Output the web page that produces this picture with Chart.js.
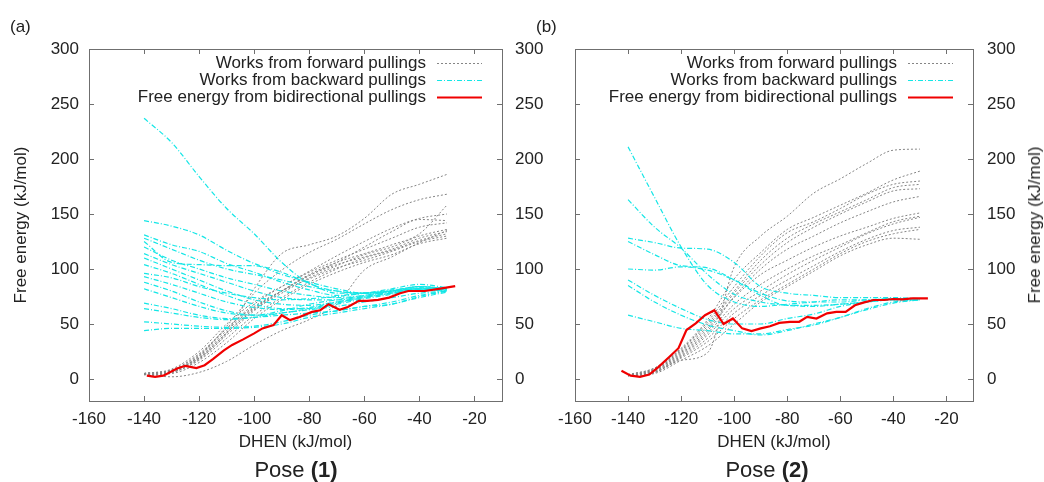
<!doctype html>
<html lang="en">
<head>
<meta charset="utf-8">
<title>Free energy from pullings</title>
<script src="https://cdn.jsdelivr.net/npm/chart.js@4.4.1/dist/chart.umd.min.js"></script>
<style>
  body { margin:0; background:#fff; font-family:"Liberation Sans", Arial, sans-serif; color:#222; }
  #wrap { position:relative; width:1044px; height:482px; overflow:hidden; }
  canvas { position:absolute; top:0; }
  .lbl { position:absolute; font-size:17px; line-height:20px; white-space:nowrap; }
  .pose { position:absolute; top:457px; font-size:22px; line-height:26px; transform:translateX(-50%); white-space:nowrap; }
  .ytitle { position:absolute; font-size:17px; line-height:20px; white-space:nowrap; transform:translate(-50%,-50%) rotate(-90deg); }
</style>
</head>
<body>
<div id="wrap">
  <canvas id="chartA" width="550" height="482" style="left:0px; width:550px; height:482px"></canvas>
  <canvas id="chartB" width="494" height="482" style="left:550px; width:494px; height:482px"></canvas>
  <div class="lbl" style="left:10px; top:17px">(a)</div>
  <div class="lbl" style="left:536px; top:17px">(b)</div>
  <div class="pose" style="left:296px">Pose <b>(1)</b></div>
  <div class="pose" style="left:767px">Pose <b>(2)</b></div>
  <div class="ytitle" style="left:1035px; top:225px">Free energy (kJ/mol)</div>
</div>

<script>
// axes
var xTicks = [-160, -140, -120, -100, -80, -60, -40, -20];
var yTicks = [0, 50, 100, 150, 200, 250, 300];
var legendLabels = ['Works from forward pullings', 'Works from backward pullings', 'Free energy from bidirectional pullings'];

// x positions of the pulling work curves
var xGrid = [-140, -130, -120, -110, -100, -90, -80, -70, -60, -50, -40, -30];

// pose (1): forward works
var fwdA = [
  [5, 8, 19, 42, 82, 114, 122, 130, 146, 168, 177, 186],
  [5, 7, 21, 48, 78, 99, 115, 127, 141, 154, 163, 168],
  [4, 6, 18, 40, 62, 80, 95, 106, 114, 122, 132, 158],
  [5, 8, 22, 46, 68, 84, 98, 112, 125, 137, 146, 150],
  [4, 7, 20, 42, 64, 80, 94, 106, 120, 134, 145, 144],
  [4, 6, 19, 42, 63, 78, 92, 103, 113, 120, 130, 136],
  [5, 7, 21, 44, 65, 80, 94, 104, 111, 118, 128, 134],
  [4, 6, 17, 37, 58, 74, 88, 100, 110, 117, 126, 132],
  [5, 8, 23, 46, 66, 80, 91, 101, 108, 116, 125, 130],
  [4, 5, 15, 33, 55, 72, 86, 97, 106, 113, 123, 128],
  [4, 2, 6, 16, 31, 44, 54, 68, 99, 111, 124, 135],
  [5, 9, 25, 50, 70, 84, 97, 108, 118, 128, 138, 142]
];
// pose (1): backward works
var bwdA = [
  [237, 215, 184, 155, 132, 106, 87, 80, 78, 80, 82, 82],
  [144, 139, 131, 117, 105, 97, 87, 78, 78, 81, 83, 82],
  [131, 122, 116, 105, 97, 88, 81, 76, 78, 80, 82, 80],
  [128, 118, 108, 100, 95, 90, 84, 80, 78, 80, 82, 82],
  [125, 106, 104, 103, 103, 95, 88, 82, 78, 80, 84, 82],
  [120, 108, 100, 92, 86, 80, 76, 74, 76, 80, 84, 82],
  [114, 104, 96, 88, 80, 74, 72, 72, 75, 78, 82, 81],
  [110, 100, 90, 80, 72, 68, 67, 70, 74, 78, 82, 82],
  [104, 96, 86, 76, 68, 64, 64, 68, 73, 77, 81, 81],
  [96, 92, 84, 78, 74, 72, 73, 75, 78, 82, 86, 83],
  [93, 86, 78, 70, 65, 63, 65, 70, 75, 79, 82, 81],
  [88, 80, 70, 62, 58, 60, 64, 69, 74, 78, 81, 80],
  [82, 74, 66, 60, 58, 62, 68, 72, 76, 80, 84, 82],
  [69, 64, 58, 55, 56, 60, 63, 66, 70, 74, 78, 80],
  [64, 60, 56, 54, 56, 58, 60, 62, 66, 68, 75, 80],
  [52, 50, 48, 47, 48, 52, 58, 62, 66, 70, 76, 80],
  [44, 46, 46, 46, 47, 50, 56, 60, 64, 68, 74, 79]
];
// pose (1): free energy
var feXA = [-139, -136, -133, -128, -125, -121, -118, -115, -111, -108, -104, -100, -97, -93, -90, -87, -84, -79, -76, -73, -69, -66, -62, -59, -55, -51, -47, -44, -38, -33, -27];
var feYA = [3, 2, 3, 9.5, 12, 10, 12.5, 18, 26, 31, 36, 41.5, 46, 49, 58, 53.5, 56, 61, 62.5, 68, 63, 65.5, 71, 71, 72, 74, 78, 80, 80, 82, 84.5];

// pose (2): forward works
var fwdB = [
  [3, 6, 17, 24, 102, 130, 148, 169, 182, 196, 208, 209],
  [4, 10, 28, 54, 91, 115, 136, 147, 158, 169, 181, 189],
  [4, 10, 27, 52, 84, 112, 133, 143, 155, 168, 177, 180],
  [3, 9, 26, 50, 80, 108, 128, 141, 152, 163, 174, 177],
  [3, 9, 25, 48, 78, 104, 124, 138, 150, 161, 171, 173],
  [3, 8, 24, 46, 75, 100, 118, 130, 142, 152, 161, 166],
  [3, 8, 23, 44, 74, 95, 108, 120, 130, 138, 146, 151],
  [3, 7, 22, 42, 68, 86, 100, 112, 122, 133, 143, 148],
  [3, 7, 21, 40, 64, 80, 95, 108, 120, 132, 141, 147],
  [3, 6, 20, 37, 60, 76, 90, 103, 116, 127, 135, 138],
  [3, 6, 19, 34, 55, 72, 86, 100, 114, 125, 132, 136],
  [3, 5, 17, 30, 50, 70, 84, 98, 112, 122, 128, 127]
];
// pose (2): backward works
var bwdB = [
  [211, 165, 120, 85, 70, 66, 68, 70, 72, 72, 73, 73],
  [163, 138, 119, 95, 77, 70, 67, 66, 68, 70, 72, 72],
  [128, 124, 119, 118, 106, 84, 78, 76, 74, 74, 74, 73],
  [125, 113, 103, 101, 90, 76, 67, 67, 68, 70, 72, 72],
  [100, 99, 102, 99, 90, 78, 71, 70, 70, 72, 73, 73],
  [90, 76, 64, 54, 50, 50, 55, 59, 66, 70, 73, 73],
  [85, 70, 58, 49, 44, 40, 44, 50, 56, 64, 70, 72],
  [58, 52, 46, 44, 41, 41, 45, 49, 56, 63, 69, 72]
];
// pose (2): free energy
var feXB = [-142.5, -139, -135.5, -132, -128.5, -124.5, -121, -118, -114.5, -111, -107.5, -104, -100.5, -97, -93.5, -90, -86.5, -83, -79, -75.5, -72.5, -69, -65, -61.5, -58, -54.5, -51, -47.5, -43.5, -40, -36.5, -33, -27];
var feYB = [7.5, 3, 2, 4, 11, 20, 28, 44.5, 50.6, 58, 62.5, 50, 55, 46, 43.6, 46, 48, 51, 52, 52, 56.5, 55, 59.7, 61, 61, 67, 69.7, 71.8, 71.8, 72.7, 72.4, 73.3, 73.3];

var fontFamily = '"Liberation Sans", Arial, sans-serif';
var txtColor = '#222';
var grayStyle = {color: '#858585', width: 1, dash: [2, 2]};
var cyanStyle = {color: '#14e6e6', width: 1.2, dash: [5, 2, 1, 2]};
var redStyle = {color: '#f00000', width: 2.2, dash: []};

function pts(xs, ys) {
  return xs.map(function (x, i) { return {x: x, y: ys[i]}; });
}

function line(data, st) {
  return {
    data: data,
    borderColor: st.color,
    borderWidth: st.width,
    borderDash: st.dash,
    pointRadius: 0,
    fill: false,
    cubicInterpolationMode: 'monotone'
  };
}

function buildSets(fwd, bwd, feX, feY) {
  var sets = [line(pts(feX, feY), redStyle)];
  sets[0].cubicInterpolationMode = 'default';
  sets[0].tension = 0;
  bwd.forEach(function (ys) { sets.push(line(pts(xGrid, ys), cyanStyle)); });
  fwd.forEach(function (ys) { sets.push(line(pts(xGrid, ys), grayStyle)); });
  return sets;
}

// frame, inward ticks on all four sides and the gnuplot style key
var framePlugin = {
  id: 'frame',
  afterDraw: function (chart) {
    var ctx = chart.ctx, a = chart.chartArea;
    var xs = chart.scales.x, ys = chart.scales.y;
    ctx.save();
    ctx.strokeStyle = '#6f6f6f';
    ctx.lineWidth = 1;
    ctx.strokeRect(Math.round(a.left) + 0.5, Math.round(a.top) + 0.5, Math.round(a.right - a.left), Math.round(a.bottom - a.top));
    ctx.beginPath();
    xTicks.forEach(function (v) {
      var p = Math.round(xs.getPixelForValue(v)) + 0.5;
      ctx.moveTo(p, a.bottom); ctx.lineTo(p, a.bottom - 5);
      ctx.moveTo(p, a.top); ctx.lineTo(p, a.top + 5);
    });
    yTicks.forEach(function (v) {
      var p = Math.round(ys.getPixelForValue(v)) + 0.5;
      ctx.moveTo(a.left, p); ctx.lineTo(a.left + 5, p);
      ctx.moveTo(a.right, p); ctx.lineTo(a.right - 5, p);
    });
    ctx.stroke();

    // key
    var styles = [grayStyle, cyanStyle, redStyle];
    ctx.font = '17px ' + fontFamily;
    ctx.fillStyle = txtColor;
    ctx.textAlign = 'right';
    ctx.textBaseline = 'middle';
    legendLabels.forEach(function (t, i) {
      var y = a.top + 14 + i * 17;
      ctx.fillText(t, a.right - 76, y);
      ctx.beginPath();
      ctx.strokeStyle = styles[i].color;
      ctx.lineWidth = styles[i].width;
      ctx.setLineDash(styles[i].dash);
      ctx.moveTo(a.right - 65, y + 0.5);
      ctx.lineTo(a.right - 20, y + 0.5);
      ctx.stroke();
      ctx.setLineDash([]);
    });
    ctx.restore();
  }
};

function setTicks(list) {
  return function (scale) { scale.ticks = list.map(function (v) { return {value: v}; }); };
}

function yAxis(pos, width, pad, showLabels, title) {
  return {
    type: 'linear',
    position: pos,
    min: -20,
    max: 300,
    afterBuildTicks: setTicks(yTicks),
    afterFit: function (s) { s.width = width; },
    grid: {display: false, drawTicks: false},
    border: {display: false},
    ticks: {display: showLabels, padding: pad, color: txtColor, font: {family: fontFamily, size: 17}},
    title: title ? {display: true, text: title, color: txtColor, font: {family: fontFamily, size: 17}, padding: {top: 11, bottom: 0}} : {display: false}
  };
}

function xAxis() {
  return {
    type: 'linear',
    position: 'bottom',
    min: -160,
    max: -10,
    afterBuildTicks: setTicks(xTicks),
    afterFit: function (s) { s.height = 81; },
    grid: {display: false, drawTicks: false},
    border: {display: false},
    ticks: {padding: 8, color: txtColor, font: {family: fontFamily, size: 17}},
    title: {display: true, text: 'DHEN (kJ/mol)', color: txtColor, font: {family: fontFamily, size: 17}, padding: {top: 0, bottom: 29}}
  };
}

function baseOptions(scales, pad) {
  return {
    responsive: false,
    maintainAspectRatio: false,
    animation: false,
    events: [],
    layout: {padding: pad},
    plugins: {legend: {display: false}, tooltip: {enabled: false}},
    scales: scales
  };
}

var chartA = new Chart(document.getElementById('chartA').getContext('2d'), {
  type: 'line',
  data: {datasets: buildSets(fwdA, bwdA, feXA, feYA)},
  options: baseOptions({
    x: xAxis(),
    y: yAxis('left', 89, 10, true, 'Free energy (kJ/mol)'),
    y2: yAxis('right', 48, 13, true, null)
  }, {top: 49, left: 0, right: 0, bottom: 0}),
  plugins: [framePlugin]
});

var chartB = new Chart(document.getElementById('chartB').getContext('2d'), {
  type: 'line',
  data: {datasets: buildSets(fwdB, bwdB, feXB, feYB)},
  options: baseOptions({
    x: xAxis(),
    y: yAxis('right', 71, 14, true, null)
  }, {top: 49, left: 11, right: 0, bottom: 0}),
  plugins: [framePlugin]
});
</script>
</body>
</html>
